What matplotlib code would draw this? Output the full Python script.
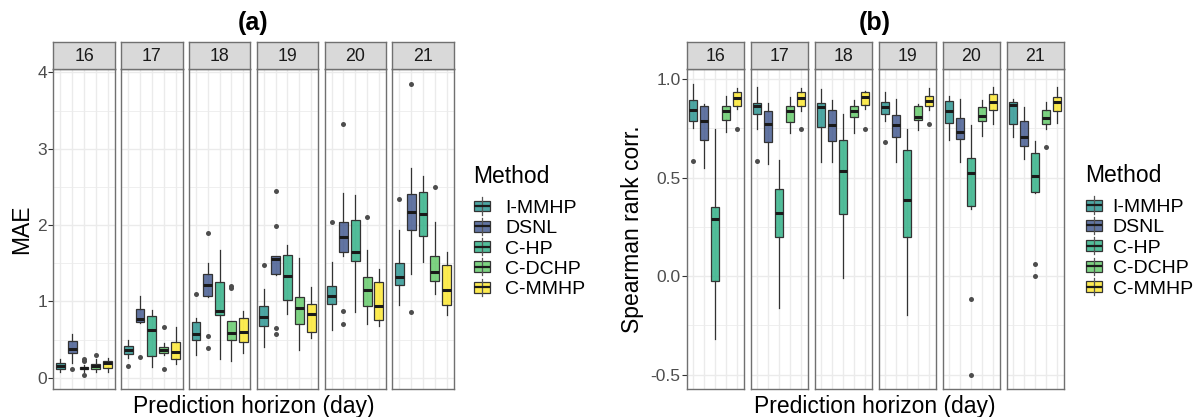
import numpy as np
import matplotlib
matplotlib.use("Agg")
import matplotlib.pyplot as plt
from matplotlib.patches import Rectangle
from matplotlib.lines import Line2D
from matplotlib.colors import to_rgba

# ---------------- data ----------------
HORIZONS = ["16", "17", "18", "19", "20", "21"]
METHODS = ["I-MMHP", "DSNL", "C-HP", "C-DCHP", "C-MMHP"]
COLORS = ["#21908C", "#3B528B", "#27AD81", "#5DC863", "#FDE725"]

# MAE box statistics, rows = horizon, cols = method
MAE_LO = [[0.08, 0.19, 0.08, 0.08, 0.08],
          [0.26, 0.72, 0.14, 0.30, 0.18],
          [0.305, 1.06, 0.24, 0.22, 0.32],
          [0.405, 1.34, 0.84, 0.36, 0.52],
          [0.62, 1.60, 0.86, 0.71, 0.675],
          [0.96, 1.36, 1.52, 1.10, 0.82]]
MAE_Q1 = [[0.12, 0.33, 0.11, 0.12, 0.13],
          [0.31, 0.73, 0.29, 0.33, 0.25],
          [0.49, 1.07, 0.82, 0.50, 0.47],
          [0.685, 1.365, 1.025, 0.707, 0.60],
          [0.97, 1.65, 1.535, 0.94, 0.755],
          [1.21, 1.93, 1.86, 1.27, 0.95]]
MAE_MED = [[0.15, 0.38, 0.125, 0.15, 0.195],
           [0.37, 0.77, 0.62, 0.37, 0.34],
           [0.58, 1.22, 0.87, 0.59, 0.60],
           [0.79, 1.56, 1.33, 0.92, 0.83],
           [1.07, 1.85, 1.65, 1.15, 0.94],
           [1.32, 2.17, 2.15, 1.39, 1.15]]
MAE_Q3 = [[0.20, 0.48, 0.145, 0.185, 0.22],
          [0.42, 0.90, 0.815, 0.41, 0.47],
          [0.73, 1.365, 1.26, 0.74, 0.785],
          [0.94, 1.59, 1.605, 1.055, 0.97],
          [1.20, 2.04, 2.07, 1.32, 1.26],
          [1.505, 2.41, 2.44, 1.59, 1.48]]
MAE_HI = [[0.24, 0.57, 0.17, 0.24, 0.26],
          [0.50, 1.07, 0.89, 0.45, 0.67],
          [0.785, 1.50, 1.68, 0.74, 0.88],
          [1.16, 1.60, 1.745, 1.57, 1.19],
          [1.52, 2.42, 2.40, 1.68, 1.43],
          [1.93, 2.75, 2.64, 2.04, 1.65]]
MAE_OUT = [[[], [0.11], [0.24, 0.22, 0.04], [0.30], []],
           [[0.15], [0.27], [], [0.67, 0.11], []],
           [[1.10], [1.90, 0.55, 0.39], [], [1.20, 1.18], []],
           [[1.48], [2.45, 1.99, 0.65, 0.576], [], [], []],
           [[2.04], [3.32, 0.87, 0.71], [], [2.11], []],
           [[2.34], [3.85, 0.86], [], [2.50], []]]

# Spearman rank correlation box statistics
SRC_LO = [[0.75, 0.548, -0.319, 0.731, 0.85],
          [0.748, 0.569, -0.162, 0.726, 0.84],
          [0.582, 0.578, -0.01, 0.726, 0.85],
          [0.785, 0.577, -0.196, 0.743, 0.844],
          [0.692, 0.577, 0.34, 0.709, 0.772],
          [0.704, 0.594, 0.42, 0.748, 0.777]]
SRC_Q1 = [[0.79, 0.692, -0.022, 0.793, 0.865],
          [0.822, 0.683, 0.198, 0.782, 0.866],
          [0.756, 0.688, 0.317, 0.807, 0.87],
          [0.822, 0.704, 0.201, 0.793, 0.866],
          [0.777, 0.696, 0.357, 0.785, 0.844],
          [0.772, 0.662, 0.427, 0.772, 0.836]]
SRC_MED = [[0.844, 0.79, 0.291, 0.839, 0.904],
           [0.865, 0.773, 0.323, 0.836, 0.904],
           [0.861, 0.768, 0.536, 0.836, 0.907],
           [0.856, 0.765, 0.388, 0.81, 0.891],
           [0.84, 0.734, 0.523, 0.815, 0.886],
           [0.87, 0.706, 0.506, 0.805, 0.886]]
SRC_Q3 = [[0.895, 0.863, 0.35, 0.865, 0.937],
          [0.881, 0.84, 0.442, 0.865, 0.937],
          [0.881, 0.844, 0.692, 0.865, 0.934],
          [0.886, 0.817, 0.638, 0.865, 0.915],
          [0.89, 0.802, 0.599, 0.861, 0.925],
          [0.886, 0.79, 0.625, 0.844, 0.909]]
SRC_HI = [[0.976, 0.875, 0.748, 0.912, 0.954],
          [0.959, 0.878, 0.59, 0.909, 0.954],
          [0.949, 0.895, 0.824, 0.895, 0.942],
          [0.937, 0.899, 0.748, 0.875, 0.954],
          [0.912, 0.899, 0.768, 0.895, 0.962],
          [0.899, 0.856, 0.688, 0.886, 0.959]]
SRC_OUT = [[[0.587], [], [], [], [0.748]],
           [[0.587], [], [], [], [0.746]],
           [[], [], [], [], [0.746]],
           [[0.683], [], [], [], [0.772]],
           [[], [], [-0.116, -0.5], [], []],
           [[], [], [0.061, -0.001], [0.658], []]]

MAE_TICKS = [0, 1, 2, 3, 4]
MAE_TICKLABELS = ["0", "1", "2", "3", "4"]
MAE_MINOR = [0.5, 1.5, 2.5, 3.5]
SRC_TICKS = [-0.5, 0.0, 0.5, 1.0]
SRC_TICKLABELS = ["-0.5", "0.0", "0.5", "1.0"]
SRC_MINOR = [-0.25, 0.25, 0.75]

# ---------------- figure ----------------
W, H = 1194, 417
fig = plt.figure(figsize=(W / 100, H / 100), dpi=100)
plt.rcParams["font.family"] = ["Liberation Sans", "DejaVu Sans"]

def fx(x):
    return x / W

def fy(y):
    return 1 - y / H

BORDER = "#707070"
GRID = "#EBEBEB"

def draw_panel(left0, step, width, top, bottom, strip_top,
               LO, Q1, MED, Q3, HI, OUT, ticks, ticklabels, minor,
               ylabel, ylabel_x, title, xlabel):
    allv = [v for arr in (LO, HI) for row in arr for v in row]
    allv += [v for row in OUT for f in row for v in f]
    vmin, vmax = min(allv), max(allv)
    pad = 0.05 * (vmax - vmin)
    ylim = (vmin - pad, vmax + pad)
    pos = np.arange(1, len(METHODS) + 1)
    for i, h in enumerate(HORIZONS):
        l = left0 + i * step
        ax = fig.add_axes([fx(l), fy(bottom), width / W, (bottom - top) / H])
        stats = []
        for j in range(len(METHODS)):
            stats.append(dict(med=MED[i][j], q1=Q1[i][j], q3=Q3[i][j],
                              whislo=LO[i][j], whishi=HI[i][j],
                              fliers=OUT[i][j]))
        res = ax.bxp(stats, positions=pos, widths=0.75, patch_artist=True,
                     showcaps=False, manage_ticks=False,
                     boxprops=dict(edgecolor="#333333", linewidth=0.9),
                     medianprops=dict(color="#1A1A1A", linewidth=2.2,
                                      solid_capstyle="butt"),
                     whiskerprops=dict(color="#333333", linewidth=0.9),
                     flierprops=dict(marker="o", markersize=3.6,
                                     markerfacecolor="#4D4D4D",
                                     markeredgecolor="none"))
        for b, c in zip(res["boxes"], COLORS):
            b.set_facecolor(to_rgba(c, 0.8))
        ax.set_xlim(0.4, len(METHODS) + 0.6)
        ax.set_ylim(*ylim)
        ax.set_xticks(pos)
        ax.set_yticks(ticks)
        ax.set_yticks(minor, minor=True)
        ax.set_axisbelow(True)
        ax.grid(which="major", color=GRID, linewidth=1.0)
        ax.grid(which="minor", axis="y", color=GRID, linewidth=0.55)
        ax.tick_params(axis="x", length=0, labelbottom=False)
        ax.tick_params(axis="y", which="minor", length=0)
        if i == 0:
            ax.set_yticklabels(ticklabels)
            ax.tick_params(axis="y", which="major", length=3.5, width=0.8,
                           color="#333333", labelsize=12.5,
                           labelcolor="#4D4D4D", pad=1.0)
        else:
            ax.tick_params(axis="y", which="major", length=0, labelleft=False)
        for s in ax.spines.values():
            s.set_color(BORDER)
            s.set_linewidth(1.0)
        sax = fig.add_axes([fx(l), fy(top), width / W, (top - strip_top) / H])
        sax.set_facecolor("#D9D9D9")
        sax.set_xticks([])
        sax.set_yticks([])
        for s in sax.spines.values():
            s.set_color(BORDER)
            s.set_linewidth(1.0)
        sax.text(0.5, 0.48, h, transform=sax.transAxes, ha="center",
                 va="center", fontsize=12.8, color="#1A1A1A")
    right = left0 + (len(HORIZONS) - 1) * step + width
    cx = (left0 + right) / 2
    fig.text(fx(ylabel_x), fy((top + bottom) / 2), ylabel, rotation=90,
             ha="center", va="center", fontsize=16.5)
    fig.text(fx(cx), fy(413.3), xlabel, ha="center", va="baseline",
             fontsize=16.5)
    fig.text(fx(cx), fy(23.3), title, ha="center", va="center",
             fontsize=18, fontweight="bold")

def draw_legend(x_key, x_label, title_base, row0, spacing):
    fig.text(fx(x_key - 1), fy(title_base), "Method", ha="left",
             va="baseline", fontsize=16.5)
    for k, (m, c) in enumerate(zip(METHODS, COLORS)):
        ry = row0 + k * spacing
        xc = x_key + 8
        fig.add_artist(Line2D([fx(xc), fx(xc)], [fy(ry - 8.5), fy(ry + 8.5)],
                              color="#555555", lw=0.9))
        fig.add_artist(Rectangle((fx(x_key), fy(ry + 5.5)), 16 / W, 11 / H,
                                 facecolor=to_rgba(c, 0.8),
                                 edgecolor="#333333", lw=0.9))
        fig.add_artist(Line2D([fx(x_key), fx(x_key + 16)], [fy(ry), fy(ry)],
                              color="#1A1A1A", lw=1.6, solid_capstyle="butt"))
        fig.text(fx(x_label), fy(ry + 7), m, ha="left", va="baseline",
                 fontsize=14)

draw_panel(53.3, 67.8, 61.5, 69.3, 389.3, 41.7,
           MAE_LO, MAE_Q1, MAE_MED, MAE_Q3, MAE_HI, MAE_OUT,
           MAE_TICKS, MAE_TICKLABELS, MAE_MINOR,
           "MAE", 22, "(a)", "Prediction horizon (day)")
draw_panel(686.7, 64.0, 57.0, 69.3, 389.3, 41.7,
           SRC_LO, SRC_Q1, SRC_MED, SRC_Q3, SRC_HI, SRC_OUT,
           SRC_TICKS, SRC_TICKLABELS, SRC_MINOR,
           "Spearman rank corr.", 633, "(b)", "Prediction horizon (day)")

draw_legend(474, 505, 183.3, 206, 20.3)
draw_legend(1085.7, 1112.7, 181.7, 205, 20.4)

fig.savefig("out.png", dpi=100)
